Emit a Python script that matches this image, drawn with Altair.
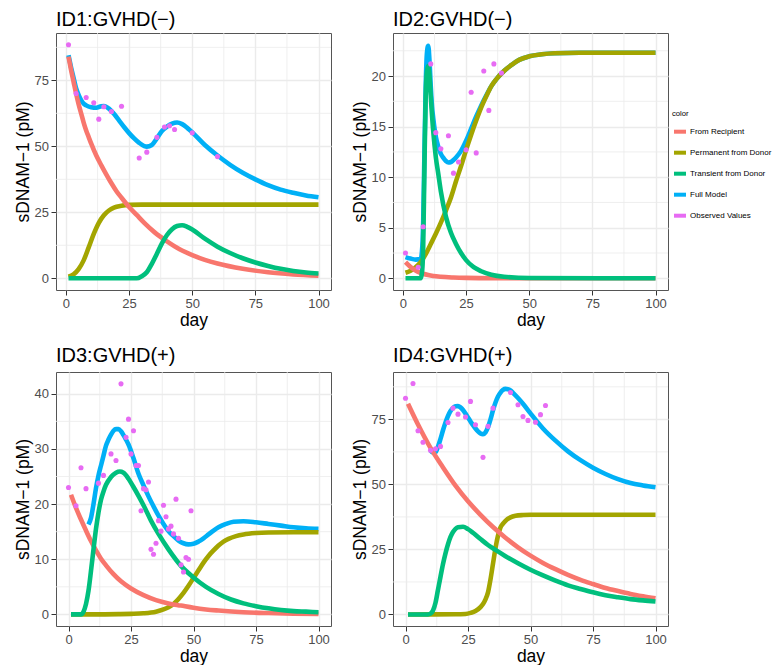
import altair as alt
import pandas as pd

FONT = "Liberation Sans"
SERIES = ["From Recipient", "Permanent from Donor", "Transient from Donor", "Full Model", "Observed Values"]
COLORS = ["#F8766D", "#A3A500", "#00BF7D", "#00B0F6", "#E76BF3"]

# ---------------- ID1 ----------------
p1_red_day = [1, 2, 3, 4, 5, 6, 7, 8, 9, 10, 12, 14, 16, 18, 20, 22, 25, 28, 31, 35, 40, 45, 50, 55, 60, 70, 80, 90, 100]
p1_red_val = [84, 79, 74.5, 70, 66, 62.5, 59, 56, 53.5, 51, 46.5, 42.8, 39.3, 36, 33, 30.5, 27, 24, 21, 17.5, 14, 11, 8.8, 7, 5.6, 3.6, 2.3, 1.5, 1.0]
p1_perm_day = [1, 3, 5, 7, 9, 11, 13, 15, 17, 19, 22, 25, 30, 40, 60, 80, 100]
p1_perm_val = [0.6, 1.5, 3.5, 6.8, 11.7, 16.8, 21, 23.9, 25.7, 26.8, 27.5, 27.8, 27.9, 27.9, 27.9, 27.9, 27.9]
p1_trans_day = [1, 10, 20, 28, 30, 32, 34, 36, 38, 40, 42, 44, 46, 48, 50, 55, 60, 65, 70, 75, 80, 85, 90, 95, 100]
p1_trans_val = [0, 0, 0, 0, 0.8, 2.3, 5.5, 9.3, 13.2, 16.4, 18.6, 19.8, 20.1, 19.5, 18.5, 15, 12, 9.6, 7.6, 6.0, 4.7, 3.6, 2.8, 2.2, 1.8]
p1_full_day = [1, 2, 3, 4, 5, 6, 7, 8, 10, 12, 14, 15, 17, 19, 21, 23, 25, 27, 29, 31, 32, 34, 36, 38, 40, 42, 44, 46, 48, 50, 55, 60, 65, 70, 75, 80, 85, 90, 95, 100]
p1_full_val = [84.5, 80, 76, 72, 69.5, 67.5, 66.2, 65.5, 64.8, 64.6, 65.2, 65.3, 64.3, 62.3, 59.8, 57.3, 55, 53, 51.3, 50.1, 49.9, 50.5, 53, 55.8, 57.5, 58.6, 59, 58.4, 57, 55.3, 50.5, 46.5, 43, 40, 37.5, 35.3, 33.6, 32.4, 31.4, 30.7]
p1_obs_day = [1, 4, 8, 11, 13, 15, 18, 22, 29, 32, 36, 39, 41, 43, 50, 60]
p1_obs_val = [88.5, 70, 68.5, 66.5, 60.3, 65, 63.2, 65.2, 45.6, 47.8, 53.4, 57.3, 57.8, 56.4, 55.1, 46.1]

# ---------------- ID2 ----------------
p2_red_day = [1, 2, 3, 4, 5, 6, 8, 10, 12, 15, 20, 25, 30, 40, 60, 100]
p2_red_val = [1.6, 1.35, 1.12, 0.93, 0.77, 0.64, 0.45, 0.32, 0.23, 0.15, 0.08, 0.04, 0.02, 0.01, 0, 0]
p2_perm_day = [1, 3, 5, 7, 9, 11, 13, 15, 17, 19, 21, 23, 25, 27, 29, 31, 33, 35, 37, 40, 43, 46, 50, 55, 60, 70, 100]
p2_perm_val = [0.55, 0.75, 1.1, 1.6, 2.4, 3.4, 4.4, 5.5, 6.7, 8.0, 9.6, 11.1, 12.7, 14.2, 15.6, 16.9, 18.0, 19.0, 19.7, 20.5, 21.1, 21.6, 21.95, 22.15, 22.25, 22.3, 22.3]
p2_trans_day = [1, 7, 7.5, 8, 8.5, 9, 9.5, 10, 10.5, 11, 12, 13, 14, 15, 17, 19, 21, 23, 25, 28, 31, 35, 40, 50, 100]
p2_trans_val = [0, 0, 0.5, 3, 11, 18, 20.5, 21, 20, 18, 14.5, 12, 10.3, 8.6, 6.1, 4.5, 3.4, 2.5, 1.8, 1.1, 0.7, 0.35, 0.15, 0.03, 0]
p2_full_day = [1, 3, 5, 7, 7.5, 8, 8.5, 9, 9.5, 10, 10.5, 11, 11.5, 12, 12.5, 13, 14, 15, 16, 17, 18, 19, 20, 21, 23, 25, 27, 29, 31, 33, 35, 37, 40, 43, 46, 50, 55, 60, 70, 100]
p2_full_val = [2.1, 1.95, 1.85, 1.9, 2.6, 5.5, 12.5, 19, 22.3, 23, 21.5, 19, 17, 15.8, 14.8, 14.0, 13.0, 12.3, 11.9, 11.6, 11.45, 11.5, 11.7, 11.95, 12.6, 13.6, 14.8, 16, 17.1, 18.1, 19.0, 19.7, 20.5, 21.1, 21.6, 21.95, 22.15, 22.25, 22.3, 22.3]
p2_obs_day = [1, 6, 8, 11, 13, 15, 18, 20, 22, 25, 27, 29, 32, 34, 36, 39]
p2_obs_val = [2.5, 1.1, 5.1, 21.2, 14.4, 12.8, 14.1, 10.4, 11.5, 12.7, 18.4, 12.4, 20.5, 16.6, 21.2, 20.3]

# ---------------- ID3 ----------------
p3_red_day = [1, 3, 5, 7, 9, 11, 13, 15, 18, 21, 25, 30, 35, 40, 45, 50, 55, 60, 70, 80, 90, 100]
p3_red_val = [21.7, 19.3, 17.2, 15.2, 13.3, 11.6, 10.1, 8.9, 7.3, 6.0, 4.7, 3.5, 2.6, 2.0, 1.6, 1.2, 0.9, 0.7, 0.4, 0.25, 0.15, 0.1]
p3_perm_day = [1, 10, 20, 25, 30, 35, 38, 40, 42, 44, 46, 48, 50, 52, 54, 56, 58, 60, 62, 64, 67, 70, 75, 80, 90, 100]
p3_perm_val = [0, 0, 0.05, 0.1, 0.2, 0.5, 0.9, 1.3, 1.9, 2.8, 3.9, 5.2, 6.6, 8.0, 9.4, 10.6, 11.6, 12.5, 13.2, 13.7, 14.2, 14.5, 14.75, 14.85, 14.9, 14.9]
p3_trans_day = [1, 5, 6, 7, 8, 9, 10, 11, 12, 13, 14, 15, 17, 19, 20.5, 22, 24, 26, 28, 30, 33, 36, 40, 45, 50, 55, 60, 65, 70, 75, 80, 85, 90, 95, 100]
p3_trans_val = [0, 0, 0.5, 1.9, 4.3, 7.9, 11.8, 15.5, 18.5, 20.8, 22.3, 23.5, 24.9, 25.7, 25.9, 25.7, 24.6, 23.1, 21.5, 19.8, 17.0, 14.6, 11.8, 8.8, 6.7, 5.0, 3.7, 2.7, 2.0, 1.5, 1.1, 0.8, 0.6, 0.5, 0.4]
p3_full_day = [8, 9, 10, 11, 12, 13, 14, 15, 16, 17, 18, 19, 20, 21, 22, 23, 24, 26, 28, 30, 32, 34, 36, 38, 40, 42, 44, 46, 48, 50, 52, 54, 56, 58, 60, 63, 66, 70, 75, 80, 85, 90, 95, 100]
p3_full_val = [16.3, 17.5, 20, 22.9, 25.2, 27.0, 28.8, 30.6, 31.7, 32.6, 33.3, 33.6, 33.6, 33.2, 32.5, 31.7, 30.8, 28.3, 25.5, 23.4, 21.4, 19.6, 17.9, 16.4, 15.1, 14.2, 13.4, 12.9, 12.7, 12.8, 13.2, 13.8, 14.5, 15.2, 15.8, 16.4, 16.8, 16.9, 16.7, 16.4, 16.1, 15.8, 15.6, 15.5]
p3_obs_day = [0, 3, 5, 7, 12, 14, 17, 19, 21, 23, 24, 25, 26, 27, 28, 29, 30, 31, 32, 33, 34, 35, 36, 37, 38, 39, 40, 41, 42, 43, 44, 45, 46, 47, 48, 49]
p3_obs_val = [23.0, 19.7, 26.6, 22.8, 23.8, 25.2, 29.1, 27.9, 41.8, 32.1, 35.4, 29.1, 33.3, 27.0, 27.0, 18.8, 22.8, 22.6, 24.0, 11.8, 10.9, 12.9, 17.0, 15.1, 19.8, 17.7, 15.5, 16.0, 14.6, 20.9, 13.8, 9.0, 7.7, 10.3, 10.0, 18.8]

# ---------------- ID4 ----------------
p4_red_day = [1, 5, 10, 15, 20, 25, 30, 35, 40, 45, 50, 55, 60, 65, 70, 75, 80, 85, 90, 95, 100]
p4_red_val = [81, 73, 64, 56.5, 49.5, 43.5, 38.3, 33.6, 29.5, 25.8, 22.6, 19.8, 17.4, 15.2, 13.3, 11.7, 10.2, 9.0, 7.9, 7.0, 6.2]
p4_perm_day = [1, 20, 24, 26, 28, 30, 31, 32, 33, 34, 35, 36, 37, 38, 39, 40, 42, 44, 47, 50, 75, 100]
p4_perm_val = [0, 0.05, 0.2, 0.6, 1.3, 2.8, 4, 5.8, 8.5, 13.5, 19.5, 25.5, 30.3, 33.5, 34.9, 36, 37.3, 37.9, 38.2, 38.3, 38.3, 38.3]
p4_trans_day = [1, 9, 10, 11, 12, 13, 14, 15, 16, 17, 18, 19, 20, 21, 23, 25, 27, 30, 33, 36, 40, 45, 50, 55, 60, 65, 70, 75, 80, 85, 90, 95, 100]
p4_trans_val = [0, 0, 0.3, 1.5, 4.5, 9.5, 14.5, 19.4, 23.5, 27, 29.8, 31.7, 32.9, 33.5, 33.7, 32.8, 31.4, 29, 26.7, 24.8, 22.4, 19.7, 17.2, 15.0, 13.0, 11.2, 9.8, 8.5, 7.4, 6.6, 5.9, 5.4, 5.0]
p4_full_day = [10, 11, 12, 13, 14, 15, 16, 17, 18, 19, 20, 21, 22, 23, 24, 25, 26, 27, 28, 29, 30, 31, 32, 33, 34, 35, 36, 37, 38, 39, 40, 41, 42, 43, 45, 47, 50, 55, 60, 65, 70, 75, 80, 85, 90, 95, 100]
p4_full_val = [63.0, 62.2, 62.4, 64.5, 67.5, 70.8, 73.8, 76.3, 78.2, 79.4, 80, 80.1, 79.6, 78.6, 77.2, 75.7, 74.2, 72.8, 71.5, 70.4, 69.6, 69.3, 70.0, 72.0, 75.0, 78.5, 81.5, 83.8, 85.3, 86.3, 86.7, 86.6, 86.1, 85.2, 83.2, 81.0, 77.3, 71.5, 66.8, 62.7, 59.3, 56.4, 54, 52, 50.5, 49.6, 48.9]
p4_obs_day = [0, 3, 5, 7, 10, 12, 14, 17, 19, 21, 24, 26, 28, 31, 33, 35, 42, 45, 47, 49, 52, 54, 56]
p4_obs_val = [83.1, 88.8, 70.6, 66.2, 63.1, 63.7, 64.6, 73.8, 79.3, 77.0, 75.9, 81.9, 72.9, 60.4, 72.3, 79.3, 85.3, 80.6, 76.1, 74.6, 73.9, 76.8, 80.3]

# axis ticks
x_ticks = [0, 25, 50, 75, 100]
x_minor = [12.5, 37.5, 62.5, 87.5]
p1_y_ticks = [0, 25, 50, 75]
p1_y_minor = [12.5, 37.5, 62.5, 87.5]
p2_y_ticks = [0, 5, 10, 15, 20]
p2_y_minor = [2.5, 7.5, 12.5, 17.5, 22.5]
p3_y_ticks = [0, 10, 20, 30, 40]
p3_y_minor = [5, 15, 25, 35]
p4_y_ticks = [0, 25, 50, 75]
p4_y_minor = [12.5, 37.5, 62.5, 87.5]

GRID = "#EBEBEB"

LEGEND = alt.Legend(
    title="color", orient="none", legendX=616, legendY=77,
    symbolType="stroke", symbolStrokeWidth=4, symbolSize=144,
    labelFontSize=8.0, titleFontSize=7.7, titleFontWeight="normal",
    labelColor="black", titleColor="black", rowPadding=5,
    labelOffset=2, titlePadding=6, padding=0,
)


def make_panel(title, title_offset, w, h, xdom, ydom, y_ticks, y_minor, curves, obs):
    xs = alt.Scale(domain=xdom, nice=False, zero=False)
    ys = alt.Scale(domain=ydom, nice=False, zero=False)
    xax = alt.Axis(values=x_ticks, title="day")
    yax = alt.Axis(values=y_ticks, title="sDNAM−1 (pM)")
    xenc = alt.X("day:Q", scale=xs, axis=xax, title="day")
    yenc = alt.Y("value:Q", scale=ys, axis=yax, title="sDNAM−1 (pM)")
    color = alt.Color("series:N", scale=alt.Scale(domain=SERIES, range=COLORS), legend=LEGEND)
    layers = [
        alt.Chart(pd.DataFrame({"day": x_minor})).mark_rule(color=GRID, strokeWidth=0.8).encode(x=xenc),
        alt.Chart(pd.DataFrame({"value": y_minor})).mark_rule(color=GRID, strokeWidth=0.8).encode(y=yenc),
    ]
    for name in ["Full Model", "Permanent from Donor", "From Recipient", "Transient from Donor"]:
        d, v = curves[name]
        df = pd.DataFrame({"day": d, "value": v, "series": name})
        layers.append(
            alt.Chart(df).mark_line(strokeWidth=4.6, interpolate="monotone", strokeCap="butt").encode(
                x=xenc, y=yenc, color=color,
            )
        )
    od, ov = obs
    odf = pd.DataFrame({"day": od, "value": ov, "series": "Observed Values"})
    layers.append(
        alt.Chart(odf).mark_circle(size=26, opacity=1).encode(x=xenc, y=yenc, color=color)
    )
    return alt.layer(*layers).properties(
        width=w, height=h,
        title=alt.TitleParams(title, offset=title_offset, anchor="start", frame="group",
                              fontSize=20, fontWeight="normal", color="black"),
    )


p1 = make_panel("ID1:GVHD(−)", 3, 275, 257, [-3.95, 104.95], [-4.43, 92.93], p1_y_ticks, p1_y_minor,
                {"From Recipient": (p1_red_day, p1_red_val),
                 "Permanent from Donor": (p1_perm_day, p1_perm_val),
                 "Transient from Donor": (p1_trans_day, p1_trans_val),
                 "Full Model": (p1_full_day, p1_full_val)},
                (p1_obs_day, p1_obs_val))
p2 = make_panel("ID2:GVHD(−)", 3, 275, 257, [-3.95, 104.95], [-1.155, 24.255], p2_y_ticks, p2_y_minor,
                {"From Recipient": (p2_red_day, p2_red_val),
                 "Permanent from Donor": (p2_perm_day, p2_perm_val),
                 "Transient from Donor": (p2_trans_day, p2_trans_val),
                 "Full Model": (p2_full_day, p2_full_val)},
                (p2_obs_day, p2_obs_val))
p3 = make_panel("ID3:GVHD(+)", 6, 275, 254, [-5, 105], [-2.1, 43.95], p3_y_ticks, p3_y_minor,
                {"From Recipient": (p3_red_day, p3_red_val),
                 "Permanent from Donor": (p3_perm_day, p3_perm_val),
                 "Transient from Donor": (p3_trans_day, p3_trans_val),
                 "Full Model": (p3_full_day, p3_full_val)},
                (p3_obs_day, p3_obs_val))
p4 = make_panel("ID4:GVHD(+)", 6, 275, 254, [-5, 105], [-4.44, 93.2], p4_y_ticks, p4_y_minor,
                {"From Recipient": (p4_red_day, p4_red_val),
                 "Permanent from Donor": (p4_perm_day, p4_perm_val),
                 "Transient from Donor": (p4_trans_day, p4_trans_val),
                 "Full Model": (p4_full_day, p4_full_val)},
                (p4_obs_day, p4_obs_val))

chart = alt.vconcat(
    alt.hconcat(p1, p2, spacing=19),
    alt.hconcat(p3, p4, spacing=19),
    spacing=16,
).resolve_scale(color="shared").properties(
    padding={"left": 6, "top": 1, "right": 0, "bottom": 0},
    background="white",
).configure(font=FONT).configure_view(
    stroke="#555555", strokeWidth=1,
).configure_axis(
    grid=True, gridColor=GRID, gridWidth=1.4, domain=False,
    tickColor="#333333", tickSize=5, tickWidth=1,
    labelColor="#4D4D4D", labelFontSize=13,
    titleFontSize=17.5, titleColor="black", titleFontWeight="normal",
).configure_axisX(
    labelPadding=2, titlePadding=1,
).configure_axisY(
    labelPadding=2.5, titlePadding=1.5,
).configure_title(font=FONT)

chart.save("out.html", embed_options={"renderer": "svg", "actions": False})
